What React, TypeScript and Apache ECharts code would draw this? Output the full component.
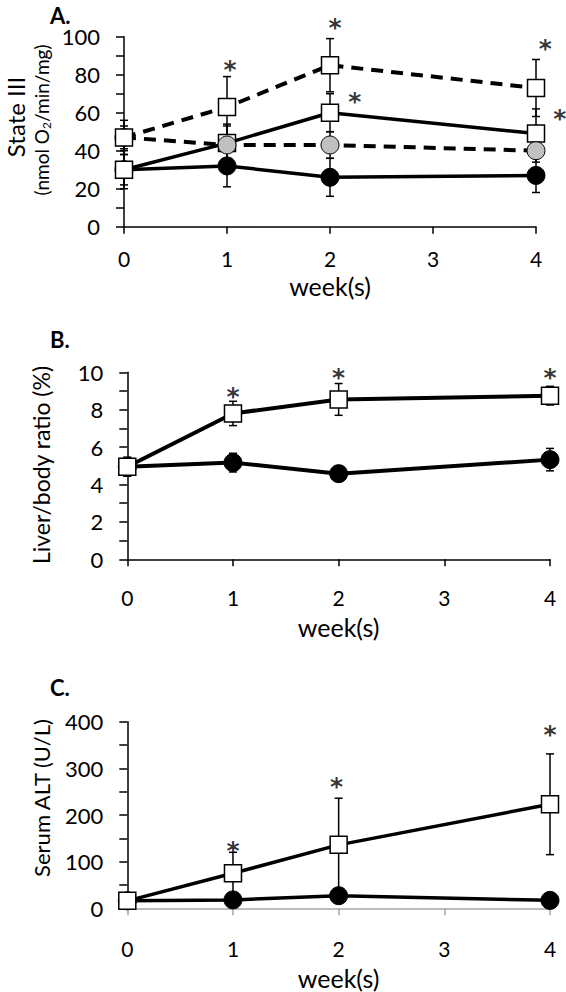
import React, { useEffect, useRef } from "react";
import * as echarts from "echarts";

const weeks = [0, 1, 2, 4];
const xTicks = [0, 1, 2, 3, 4];

// Panel A: State III respiration
const aSqDash = [47, 63, 85, 73];
const aSqDashErr = [9, 16, 14, 15];
const aSqSolid = [30, 44, 60, 49];
const aSqSolidErr = [8, 10, 10, 13];
const aCiGrey = [47, 43, 43, 40];
const aCiGreyErr = [6, 10, 7, 6];
const aCiBlack = [30, 32, 26, 27];
const aCiBlackErr = [10, 11, 10, 9];
const aStars: [number, number][] = [[1.03, 86], [2.05, 108], [2.24, 69], [4.09, 97], [4.23, 60]];

// Panel B: Liver/body ratio
const bSq = [4.95, 7.8, 8.55, 8.75];
const bSqErr = [0.5, 0.65, 0.85, 0.5];
const bCi = [4.95, 5.17, 4.58, 5.33];
const bCiErr = [0.5, 0.5, 0.2, 0.6];
const bStars: [number, number][] = [[1, 9.05], [2, 10.03], [4, 10.03]];

// Panel C: Serum ALT
const cSq = [16, 75, 136, 223];
const cSqErr = [8, 45, 100, 108];
const cCi = [16, 18, 27, 17];
const cCiErr = [3, 5, 6, 4];
const cStars: [number, number][] = [[1, 136], [1.98, 275], [4, 386]];

const FONT = "Lato";

const pairs = (vals: number[]) => weeks.map((w, i) => [w, vals[i]]);
const errData = (vals: number[], errs: number[]) =>
  weeks.map((w, i) => [w, vals[i] - errs[i], vals[i] + errs[i]]);

function errorSeries(idx: number, vals: number[], errs: number[]) {
  return {
    type: "custom",
    xAxisIndex: idx,
    yAxisIndex: idx,
    z: 1,
    silent: true,
    clip: false,
    encode: { x: 0, y: [1, 2] },
    data: errData(vals, errs),
    renderItem: (params: any, api: any) => {
      const x = api.value(0);
      const lo = api.coord([x, api.value(1)]);
      const hi = api.coord([x, api.value(2)]);
      const hw = 4;
      const st = { stroke: "#000", lineWidth: 1.5 };
      return {
        type: "group",
        children: [
          { type: "line", shape: { x1: hi[0], y1: hi[1], x2: lo[0], y2: lo[1] }, style: st },
          { type: "line", shape: { x1: hi[0] - hw, y1: hi[1], x2: hi[0] + hw, y2: hi[1] }, style: st },
          { type: "line", shape: { x1: lo[0] - hw, y1: lo[1], x2: lo[0] + hw, y2: lo[1] }, style: st },
        ],
      };
    },
  };
}

function lineSeries(idx: number, vals: number[], kind: "sq" | "black" | "grey", dashed: boolean, lw = 3.5) {
  const symbol = kind === "sq" ? "rect" : "circle";
  const fill = kind === "sq" ? "#fff" : kind === "grey" ? "#c0c0c0" : "#000";
  return {
    type: "line",
    xAxisIndex: idx,
    yAxisIndex: idx,
    z: 3,
    data: pairs(vals),
    symbol,
    symbolSize: kind === "sq" ? 17 : 18,
    showAllSymbol: true,
    itemStyle: { color: fill, borderColor: "#000", borderWidth: kind === "sq" ? 1.5 : 1 },
    lineStyle: { color: "#000", width: dashed ? 4 : lw, type: dashed ? [12, 8] : "solid" },
    emphasis: { disabled: true },
  };
}

function starSeries(idx: number, stars: [number, number][]) {
  return {
    type: "scatter",
    xAxisIndex: idx,
    yAxisIndex: idx,
    z: 6,
    silent: true,
    clip: false,
    data: stars,
    symbolSize: 1,
    itemStyle: { color: "rgba(255,255,255,0)" },
    label: {
      show: true,
      position: "inside",
      formatter: "*",
      fontFamily: "DejaVu Sans",
      fontWeight: "bold",
      fontSize: 25,
      color: "#000",
      textBorderWidth: 0,
      textBorderColor: "transparent",
      offset: [0, 6],
    },
  };
}

function xAxis(idx: number, color: string, labelMargin: number, nameGap: number) {
  return {
    type: "value",
    gridIndex: idx,
    min: 0,
    max: 4,
    interval: 1,
    data: xTicks,
    axisLine: { show: true, onZero: false, lineStyle: { color, width: 1.5 } },
    axisTick: { show: true, inside: false, length: 7, lineStyle: { color, width: 1.5 } },
    axisLabel: { fontFamily: FONT, fontSize: 21, color: "#000", margin: labelMargin },
    splitLine: { show: false },
    name: "week(s)",
    nameLocation: "middle",
    nameGap,
    nameTextStyle: { fontFamily: FONT, fontSize: 25, color: "#000" },
  };
}

function yAxis(idx: number, max: number, interval: number) {
  return {
    type: "value",
    gridIndex: idx,
    min: 0,
    max,
    interval,
    axisLine: { show: true, lineStyle: { color: "#000", width: 1.5 } },
    axisTick: { show: true, inside: false, length: 8, lineStyle: { color: "#000", width: 1.5 } },
    minorTick: { show: true, splitNumber: 2, length: 8, lineStyle: { color: "#000", width: 1.5 } },
    axisLabel: { fontFamily: FONT, fontSize: 22, color: "#000", margin: 24 },
    splitLine: { show: false },
  };
}

export default function App() {
  const ref = useRef<HTMLDivElement>(null);
  useEffect(() => {
    document.body.style.margin = "0";
    const chart = echarts.init(ref.current!, null, { renderer: "svg" });
    chart.setOption({
      animation: false,
      backgroundColor: "#fff",
      grid: [
        { left: 124, top: 36.7, width: 412, height: 190 },
        { left: 127.3, top: 372.3, width: 422.7, height: 187 },
        { left: 127.3, top: 721.7, width: 422.7, height: 186.6 },
      ],
      xAxis: [
        xAxis(0, "#000", 21, 47),
        xAxis(1, "#000", 28, 55),
        xAxis(2, "#a6a6a6", 30, 57),
      ],
      yAxis: [yAxis(0, 100, 20), yAxis(1, 10, 2), yAxis(2, 400, 100)],
      graphic: [
        { type: "text", left: 50, top: 4, style: { text: "A.", font: `bold 22px ${FONT}`, fill: "#000" } },
        { type: "text", left: 50, top: 328, style: { text: "B.", font: `bold 22px ${FONT}`, fill: "#000" } },
        { type: "text", left: 50, top: 676, style: { text: "C.", font: `bold 22px ${FONT}`, fill: "#000" } },
        {
          type: "text", x: 15, y: 117, rotation: Math.PI / 2,
          style: { text: "State III", font: `24px ${FONT}`, fill: "#000", align: "center", verticalAlign: "middle" },
        },
        {
          type: "text", x: 41, y: 120, rotation: Math.PI / 2,
          style: {
            text: "{b|(nmol O}{s|2}{b|/min/mg)}",
            align: "center",
            verticalAlign: "middle",
            rich: {
              b: { fontFamily: FONT, fontSize: 19, fill: "#000", lineHeight: 22 },
              s: { fontFamily: FONT, fontSize: 12, fill: "#000", lineHeight: 13, verticalAlign: "bottom" },
            },
          },
        },
        {
          type: "text", x: 41, y: 465, rotation: Math.PI / 2,
          style: { text: "Liver/body ratio (%)", font: `23px ${FONT}`, fill: "#000", align: "center", verticalAlign: "middle" },
        },
        {
          type: "text", x: 41, y: 798, rotation: Math.PI / 2,
          style: { text: "Serum ALT (U/L)", font: `22px ${FONT}`, fill: "#000", align: "center", verticalAlign: "middle" },
        },
      ],
      series: [
        errorSeries(0, aSqDash, aSqDashErr),
        errorSeries(0, aSqSolid, aSqSolidErr),
        errorSeries(0, aCiGrey, aCiGreyErr),
        errorSeries(0, aCiBlack, aCiBlackErr),
        lineSeries(0, aCiBlack, "black", false),
        lineSeries(0, aSqSolid, "sq", false),
        lineSeries(0, aCiGrey, "grey", true),
        lineSeries(0, aSqDash, "sq", true),
        starSeries(0, aStars),

        errorSeries(1, bSq, bSqErr),
        errorSeries(1, bCi, bCiErr),
        lineSeries(1, bCi, "black", false, 4),
        lineSeries(1, bSq, "sq", false, 4),
        starSeries(1, bStars),

        errorSeries(2, cSq, cSqErr),
        errorSeries(2, cCi, cCiErr),
        lineSeries(2, cCi, "black", false, 3.5),
        lineSeries(2, cSq, "sq", false, 3.5),
        starSeries(2, cStars),
      ],
    });
    return () => chart.dispose();
  }, []);
  return <div ref={ref} style={{ width: 566, height: 992 }} />;
}
